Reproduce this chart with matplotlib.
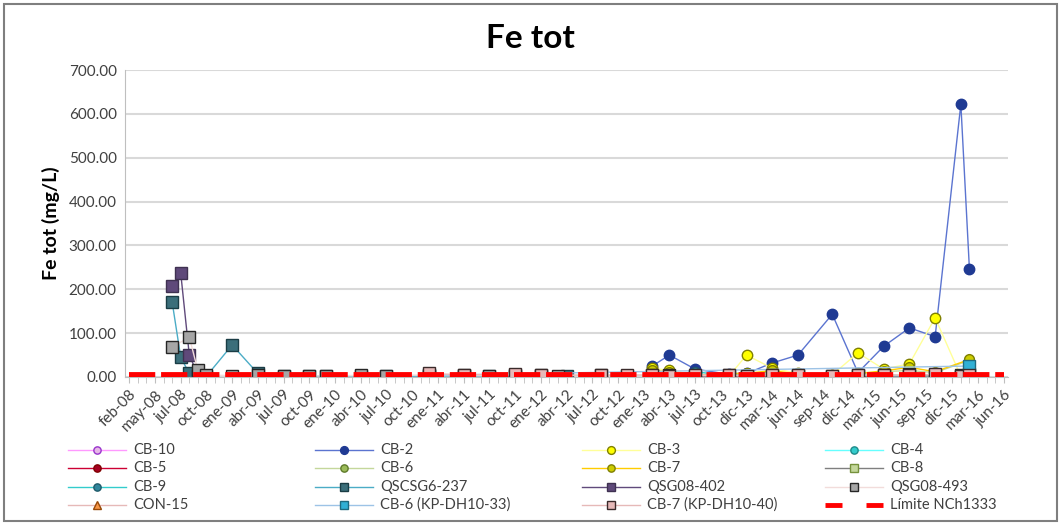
import matplotlib
matplotlib.use("Agg")
import matplotlib.pyplot as plt
from matplotlib.lines import Line2D
from matplotlib.patches import Rectangle

plt.rcParams["font.family"] = ["Lato", "DejaVu Sans"]

# category axis: one slot per sampling campaign, a label every third slot
tick_labels = ["feb-08", "may-08", "jul-08", "oct-08", "ene-09", "abr-09", "jul-09",
               "oct-09", "ene-10", "abr-10", "jul-10", "oct-10", "ene-11", "abr-11",
               "jul-11", "oct-11", "ene-12", "abr-12", "jul-12", "oct-12", "ene-13",
               "abr-13", "jul-13", "oct-13", "dic-13", "mar-14", "jun-14", "sep-14",
               "dic-14", "mar-15", "jun-15", "sep-15", "dic-15", "mar-16", "jun-16"]
n_cat = 103

late_x = [61, 63, 66, 70, 72, 75, 78, 82, 85, 88, 91, 94, 97, 98]

cb10_x = [61, 66, 72, 78, 85, 91]
cb10_y = [2, 2, 2, 2, 2, 2]
cb2_x = late_x
cb2_y = [25, 50, 18, 6, 8, 32, 50, 143, 10, 70, 112, 92, 622, 246]
cb3_x = late_x
cb3_y = [20, 15, 5, 3, 50, 20, 8, 5, 55, 18, 30, 135, 2, 35]
cb4_x = late_x
cb4_y = [3, 2, 2, 1, 2, 3, 2, 2, 1, 3, 2, 3, 2, 25]
cb5_x = late_x
cb5_y = [4, 3, 2, 2, 3, 3, 2, 3, 2, 4, 3, 4, 3, 4]
cb6_x = [61, 63, 66, 72, 75, 78, 85, 88, 91, 94, 98]
cb6_y = [10, 8, 5, 10, 10, 5, 5, 12, 15, 10, 38]
cb7_x = [61, 63, 66, 72, 75, 78, 85, 88, 91, 94, 98]
cb7_y = [15, 12, 4, 8, 15, 6, 8, 14, 22, 12, 40]
cb8_x = [61, 66, 72, 78, 85, 91, 97]
cb8_y = [3, 2, 3, 2, 3, 2, 3]
cb9_x = [61, 63, 66, 70, 72, 75, 78, 82, 85, 88, 91, 94]
cb9_y = [5, 4, 12, 3, 5, 4, 3, 4, 3, 5, 4, 6]
qscsg_x = [5, 6, 7, 8, 9, 12, 15, 18, 21, 23, 27, 30, 35, 39, 42, 45, 48, 51]
qscsg_y = [171, 45, 8, 3, 2, 73, 8, 3, 2, 2, 3, 2, 2, 3, 2, 2, 2, 2]
q402_x = [5, 6, 7, 8]
q402_y = [207, 237, 50, 5]
q493_x = [5, 7, 8, 9, 12, 15, 18, 21, 23, 27, 30, 35, 39, 42, 45, 48, 50, 55,
          58, 61, 63, 66, 70, 72, 75, 78, 82, 85, 88, 91, 94, 97, 98]
q493_y = [68, 91, 15, 5, 3, 4, 3, 3, 2, 4, 3, 5, 4, 3, 5, 4, 3, 4,
          3, 5, 4, 3, 4, 3, 5, 4, 3, 5, 4, 6, 5, 4, 6]
con15_x = [94, 97, 98]
con15_y = [3, 3, 4]
kp33_x = [35, 98]
kp33_y = [4, 25]
kp40_x = [35, 39, 45, 48, 55, 58, 61, 63, 66, 70, 72, 75, 78, 82, 85, 88, 91, 94, 97, 98]
kp40_y = [8, 5, 6, 5, 4, 5, 4, 3, 5, 4, 3, 5, 4, 3, 4, 5, 4, 6, 3, 4]
limit_value = 5.0

# (label, x, y, line colour, marker, face, edge, marker size)
series = [
    ("CB-10", cb10_x, cb10_y, "#ff99ff", "o", "#e6b8e6", "#9933cc", 7),
    ("CB-2", cb2_x, cb2_y, "#5b74d0", "o", "#1f3a93", "#1f3a93", 7.5),
    ("CB-3", cb3_x, cb3_y, "#ffff99", "o", "#ffff00", "#808000", 7.5),
    ("CB-4", cb4_x, cb4_y, "#66ffff", "o", "#33cccc", "#1f8a8a", 7),
    ("CB-5", cb5_x, cb5_y, "#cc0033", "o", "#a50021", "#800000", 7),
    ("CB-6", cb6_x, cb6_y, "#c4d79b", "o", "#9bbb59", "#5e7a2a", 7),
    ("CB-7", cb7_x, cb7_y, "#ffcc00", "o", "#cccc00", "#7f7f00", 7),
    ("CB-8", cb8_x, cb8_y, "#7f7f7f", "s", "#c4d79b", "#76923c", 8),
    ("CB-9", cb9_x, cb9_y, "#33cccc", "o", "#31859c", "#1f5a6a", 7),
    ("QSCSG6-237", qscsg_x, qscsg_y, "#4bacc6", "s", "#3b6e7a", "#1a3d45", 8.5),
    ("QSG08-402", q402_x, q402_y, "#604a7b", "s", "#5f497a", "#3f3151", 8.5),
    ("QSG08-493", q493_x, q493_y, "#f2dcdb", "s", "#a6a6a6", "#262626", 8.5),
    ("CON-15", con15_x, con15_y, "#e6b9b8", "^", "#f79646", "#984807", 7),
    ("CB-6 (KP-DH10-33)", kp33_x, kp33_y, "#9dc3e6", "s", "#31b0d5", "#1f6b80", 8.5),
    ("CB-7 (KP-DH10-40)", kp40_x, kp40_y, "#e6b9b8", "s", "#e6b9b8", "#3a2a2a", 8.5),
]

fig = plt.figure(figsize=(10.61, 5.25), dpi=100)
ax = fig.add_axes([125 / 1061, 1 - 377 / 525, (1008 - 125) / 1061, (377 - 70) / 525])

for name, xs, ys, lc, mk, fc, ec, ms in series:
    ax.plot(xs, ys, color=lc, lw=1.0, marker=mk, ms=ms, mfc=fc, mec=ec, mew=1.0)

ax.plot(range(n_cat), [limit_value] * n_cat, color="red", lw=4.2,
        dashes=(4.5, 1), solid_capstyle="butt", zorder=5)

ax.set_xlim(-0.5, n_cat - 0.5)
ax.set_ylim(0, 700)
ax.set_yticks(range(0, 701, 100))
ax.set_yticklabels([f"{v:.2f}" for v in range(0, 701, 100)], fontsize=11, color="#404040")
ax.set_xticks(range(0, n_cat, 3))
ax.set_xticklabels(tick_labels, rotation=45, ha="right", rotation_mode="anchor",
                   fontsize=11, color="#404040")
ax.set_xticks(range(n_cat), minor=True)
ax.tick_params(axis="x", which="both", length=4, color="#bfbfbf", direction="out")
ax.tick_params(axis="y", length=0, pad=6)
ax.grid(axis="y", color="#d9d9d9", lw=1.5)
ax.set_axisbelow(True)
for side in ("top", "right"):
    ax.spines[side].set_visible(False)
ax.spines["left"].set_color("#bfbfbf")
ax.spines["bottom"].set_color("#bfbfbf")
ax.set_ylabel("Fe tot (mg/L)", fontsize=14, fontweight="bold", labelpad=6)

fig.text(0.5, 1 - 38 / 525, "Fe tot", ha="center", va="center",
         fontsize=24, fontweight="bold")

# legend laid out like Excel: 4 equal columns filled row by row
col_x = [68, 315, 582, 825]
row_y = [450, 468, 487, 505]
legend_items = [(s[0], s[3], s[4], s[5], s[6], s[7]) for s in series]
legend_items.append(("Límite NCh1333", "red", None, None, None, 0))
for i, (name, lc, mk, fc, ec, ms) in enumerate(legend_items):
    x0 = col_x[i % 4] / 1061
    y0 = 1 - row_y[i // 4] / 525
    x1 = x0 + 58 / 1061
    if mk is None:
        fig.add_artist(Line2D([x0, x0 + 17 / 1061], [y0, y0], color=lc, lw=3.5,
                              solid_capstyle="butt"))
        fig.add_artist(Line2D([x1 - 17 / 1061, x1], [y0, y0], color=lc, lw=3.5,
                              solid_capstyle="butt"))
    else:
        fig.add_artist(Line2D([x0, x1], [y0, y0], color=lc, lw=1.0))
        fig.add_artist(Line2D([(x0 + x1) / 2], [y0], marker=mk, ms=ms * 0.75,
                              mfc=fc, mec=ec, mew=1.0))
    fig.text(x1 + 7 / 1061, y0, name, ha="left", va="center", fontsize=10.5,
             color="#404040")

fig.add_artist(Rectangle((4 / 1061, 4 / 525), 1 - 8 / 1061, 1 - 8 / 525,
                         transform=fig.transFigure, fill=False,
                         edgecolor="#7f7f7f", lw=1.5))

fig.savefig("out.png", dpi=100)
